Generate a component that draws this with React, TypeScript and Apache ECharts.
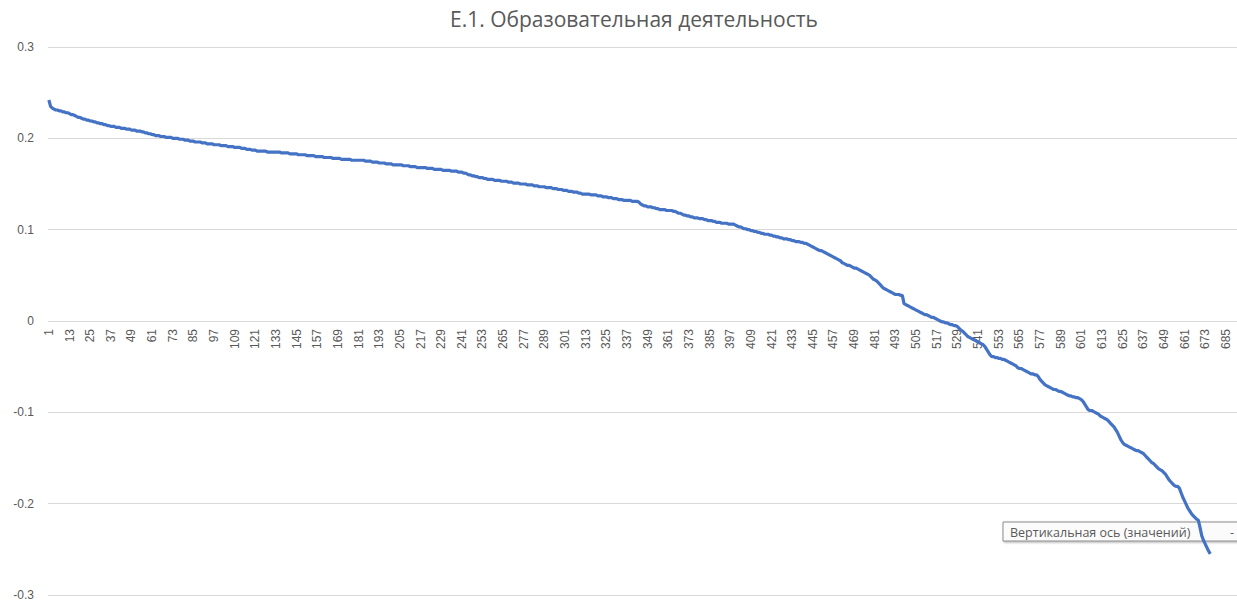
import React, { useEffect, useRef } from "react";
import * as echarts from "echarts";

const TITLE = "Е.1. Образовательная деятельность";
const TOOLTIP_TEXT = "Вертикальная ось (значений)";
const TOOLTIP_DASH = "-";

// category count on the axis (labels 1..685 shown every 12th)
const CATEGORY_COUNT = 691;
const categories: string[] = Array.from({ length: CATEGORY_COUNT }, (_, i) => String(i + 1));

const Y_MIN = -0.3;
const Y_MAX = 0.3;
const Y_STEP = 0.1;

// values, 12 per row (categories 1..676)
const values: number[] = [
  0.242, 0.235, 0.233, 0.232, 0.231, 0.231, 0.230, 0.230, 0.229, 0.229, 0.228, 0.228,
  0.227, 0.226, 0.226, 0.225, 0.224, 0.223, 0.223, 0.222, 0.221, 0.221, 0.220, 0.220,
  0.219, 0.219, 0.218, 0.218, 0.217, 0.217, 0.216, 0.216, 0.215, 0.215, 0.214, 0.214,
  0.213, 0.213, 0.213, 0.212, 0.212, 0.212, 0.211, 0.211, 0.211, 0.210, 0.210, 0.210,
  0.209, 0.209, 0.209, 0.208, 0.208, 0.208, 0.207, 0.207, 0.206, 0.206, 0.205, 0.205,
  0.204, 0.204, 0.203, 0.203, 0.203, 0.202, 0.202, 0.202, 0.201, 0.201, 0.201, 0.201,
  0.200, 0.200, 0.200, 0.200, 0.199, 0.199, 0.199, 0.198, 0.198, 0.198, 0.197, 0.197,
  0.197, 0.196, 0.196, 0.196, 0.196, 0.195, 0.195, 0.195, 0.194, 0.194, 0.194, 0.194,
  0.193, 0.193, 0.193, 0.193, 0.192, 0.192, 0.192, 0.192, 0.191, 0.191, 0.191, 0.191,
  0.190, 0.190, 0.190, 0.190, 0.189, 0.189, 0.189, 0.188, 0.188, 0.188, 0.187, 0.187,
  0.187, 0.186, 0.186, 0.186, 0.186, 0.186, 0.186, 0.185, 0.185, 0.185, 0.185, 0.185,
  0.185, 0.185, 0.185, 0.184, 0.184, 0.184, 0.184, 0.184, 0.183, 0.183, 0.183, 0.183,
  0.183, 0.182, 0.182, 0.182, 0.182, 0.182, 0.181, 0.181, 0.181, 0.181, 0.181, 0.180,
  0.180, 0.180, 0.180, 0.180, 0.179, 0.179, 0.179, 0.179, 0.179, 0.178, 0.178, 0.178,
  0.178, 0.178, 0.177, 0.177, 0.177, 0.177, 0.177, 0.177, 0.176, 0.176, 0.176, 0.176,
  0.176, 0.176, 0.176, 0.176, 0.175, 0.175, 0.175, 0.175, 0.174, 0.174, 0.174, 0.174,
  0.173, 0.173, 0.173, 0.173, 0.172, 0.172, 0.172, 0.172, 0.171, 0.171, 0.171, 0.171,
  0.171, 0.171, 0.170, 0.170, 0.170, 0.170, 0.169, 0.169, 0.169, 0.169, 0.168, 0.168,
  0.168, 0.168, 0.168, 0.168, 0.167, 0.167, 0.167, 0.167, 0.166, 0.166, 0.166, 0.166,
  0.166, 0.165, 0.165, 0.165, 0.165, 0.165, 0.164, 0.164, 0.164, 0.164, 0.163, 0.163,
  0.163, 0.162, 0.162, 0.161, 0.160, 0.160, 0.159, 0.159, 0.158, 0.158, 0.157, 0.157,
  0.157, 0.156, 0.156, 0.155, 0.155, 0.155, 0.155, 0.154, 0.154, 0.154, 0.154, 0.153,
  0.153, 0.153, 0.153, 0.152, 0.152, 0.152, 0.151, 0.151, 0.151, 0.151, 0.150, 0.150,
  0.150, 0.150, 0.149, 0.149, 0.149, 0.149, 0.148, 0.148, 0.148, 0.147, 0.147, 0.147,
  0.147, 0.146, 0.146, 0.146, 0.146, 0.145, 0.145, 0.145, 0.144, 0.144, 0.144, 0.143,
  0.143, 0.143, 0.142, 0.142, 0.142, 0.141, 0.141, 0.141, 0.140, 0.140, 0.139, 0.139,
  0.139, 0.139, 0.139, 0.138, 0.138, 0.138, 0.138, 0.137, 0.137, 0.137, 0.136, 0.136,
  0.136, 0.135, 0.135, 0.135, 0.134, 0.134, 0.134, 0.133, 0.133, 0.133, 0.132, 0.132,
  0.132, 0.132, 0.132, 0.131, 0.131, 0.131, 0.131, 0.130, 0.128, 0.127, 0.126, 0.126,
  0.125, 0.125, 0.125, 0.124, 0.124, 0.123, 0.123, 0.122, 0.122, 0.122, 0.122, 0.121,
  0.121, 0.121, 0.121, 0.120, 0.120, 0.119, 0.118, 0.118, 0.117, 0.116, 0.116, 0.115,
  0.115, 0.114, 0.114, 0.113, 0.113, 0.113, 0.112, 0.112, 0.112, 0.111, 0.111, 0.110,
  0.110, 0.110, 0.109, 0.109, 0.108, 0.108, 0.108, 0.107, 0.107, 0.107, 0.107, 0.106,
  0.106, 0.106, 0.106, 0.105, 0.104, 0.103, 0.103, 0.102, 0.101, 0.101, 0.100, 0.100,
  0.099, 0.099, 0.098, 0.098, 0.097, 0.097, 0.096, 0.096, 0.095, 0.095, 0.095, 0.094,
  0.094, 0.093, 0.093, 0.092, 0.092, 0.091, 0.091, 0.090, 0.090, 0.090, 0.089, 0.089,
  0.088, 0.088, 0.087, 0.087, 0.087, 0.086, 0.086, 0.085, 0.085, 0.084, 0.083, 0.082,
  0.081, 0.080, 0.079, 0.078, 0.077, 0.077, 0.076, 0.075, 0.074, 0.073, 0.072, 0.071,
  0.070, 0.069, 0.068, 0.067, 0.066, 0.064, 0.063, 0.062, 0.061, 0.061, 0.060, 0.059,
  0.058, 0.058, 0.057, 0.056, 0.055, 0.054, 0.053, 0.052, 0.051, 0.050, 0.048, 0.046,
  0.045, 0.044, 0.042, 0.040, 0.038, 0.036, 0.035, 0.034, 0.033, 0.032, 0.031, 0.030,
  0.029, 0.029, 0.029, 0.028, 0.028, 0.019, 0.018, 0.017, 0.016, 0.015, 0.014, 0.013,
  0.012, 0.011, 0.010, 0.009, 0.008, 0.007, 0.007, 0.006, 0.005, 0.004, 0.004, 0.003,
  0.002, 0.001, 0.000, -0.001, -0.001, -0.002, -0.002, -0.003, -0.004, -0.004, -0.005, -0.005,
  -0.006, -0.008, -0.010, -0.011, -0.013, -0.015, -0.017, -0.018, -0.019, -0.020, -0.021, -0.022,
  -0.023, -0.024, -0.025, -0.026, -0.028, -0.031, -0.034, -0.037, -0.039, -0.039, -0.040, -0.040,
  -0.041, -0.041, -0.042, -0.042, -0.043, -0.044, -0.045, -0.046, -0.047, -0.048, -0.049, -0.051,
  -0.052, -0.052, -0.053, -0.054, -0.055, -0.056, -0.057, -0.058, -0.058, -0.059, -0.059, -0.061,
  -0.064, -0.066, -0.068, -0.070, -0.071, -0.072, -0.073, -0.074, -0.075, -0.075, -0.076, -0.077,
  -0.077, -0.078, -0.079, -0.080, -0.081, -0.082, -0.082, -0.083, -0.083, -0.084, -0.084, -0.085,
  -0.086, -0.088, -0.091, -0.094, -0.097, -0.098, -0.098, -0.099, -0.100, -0.101, -0.102, -0.104,
  -0.105, -0.106, -0.107, -0.108, -0.110, -0.112, -0.114, -0.116, -0.119, -0.122, -0.126, -0.130,
  -0.133, -0.135, -0.136, -0.137, -0.138, -0.139, -0.140, -0.141, -0.142, -0.142, -0.143, -0.144,
  -0.145, -0.147, -0.149, -0.151, -0.153, -0.155, -0.156, -0.158, -0.160, -0.162, -0.163, -0.164,
  -0.166, -0.168, -0.171, -0.174, -0.176, -0.178, -0.180, -0.181, -0.181, -0.183, -0.188, -0.193,
  -0.197, -0.201, -0.205, -0.208, -0.211, -0.213, -0.215, -0.217, -0.218, -0.226, -0.235, -0.240,
  -0.244, -0.248, -0.252, -0.255,
];

const GRID_TOP = 47;
const GRID_BOTTOM = 6;
const CHART_H = 601;

export default function App() {
  const ref = useRef<HTMLDivElement>(null);

  useEffect(() => {
    document.body.style.margin = "0";
    if (!ref.current) return;
    const chart = echarts.init(ref.current, null, { renderer: "svg" });
    // zero line position inside the grid -> offset the category axis up to it
    const plotH = CHART_H - GRID_TOP - GRID_BOTTOM;
    const zeroOffset = -plotH * ((0 - Y_MIN) / (Y_MAX - Y_MIN));
    chart.setOption({
      animation: false,
      backgroundColor: "#ffffff",
      title: {
        text: TITLE,
        left: 445,
        top: 3,
        textStyle: {
          fontFamily: "Open Sans",
          fontSize: 21,
          fontWeight: "normal",
          color: "#595959",
        },
      },
      grid: {
        left: 48,
        right: 0,
        top: GRID_TOP,
        bottom: GRID_BOTTOM,
        containLabel: false,
        outerBoundsMode: "none",
      },
      xAxis: {
        type: "category",
        data: categories,
        boundaryGap: true,
        position: "bottom",
        offset: zeroOffset,
        axisLine: { show: false, onZero: false },
        axisTick: { show: false },
        axisLabel: {
          interval: 11,
          rotate: 90,
          margin: 8,
          fontFamily: "Liberation Sans Narrow, Liberation Sans",
          fontSize: 12,
          color: "#595959",
        },
        splitLine: { show: false },
      },
      yAxis: {
        type: "value",
        min: Y_MIN,
        max: Y_MAX,
        interval: Y_STEP,
        axisLine: { show: false },
        axisTick: { show: false },
        axisLabel: {
          margin: 14,
          fontFamily: "Liberation Sans",
          fontSize: 12,
          color: "#595959",
          formatter: (v: number) => {
            const r = Math.round(v * 10) / 10;
            return r === 0 ? "0" : String(r);
          },
        },
        splitLine: { show: true, lineStyle: { color: "#d9d9d9", width: 1 } },
      },
      series: [
        {
          type: "line",
          data: values,
          symbol: "none",
          smooth: false,
          lineStyle: { color: "#4472C4", width: 3.2 },
          z: 2,
        },
      ],
      graphic: [
        {
          type: "group",
          z: 100,
          children: [
            {
              type: "rect",
              shape: { x: 1003, y: 522, width: 250, height: 19 },
              style: {
                fill: "rgba(255,255,255,0.88)",
                stroke: "#8c8c8c",
                lineWidth: 1,
                shadowBlur: 2,
                shadowOffsetX: 1,
                shadowOffsetY: 1,
                shadowColor: "rgba(0,0,0,0.35)",
              },
            },
            {
              type: "text",
              x: 1010,
              y: 532,
              style: {
                text: TOOLTIP_TEXT,
                fontFamily: "Open Sans",
                fontSize: 12.5,
                fill: "#595959",
                verticalAlign: "middle",
                align: "left",
              },
            },
            {
              type: "text",
              x: 1230,
              y: 532,
              style: {
                text: TOOLTIP_DASH,
                fontFamily: "Open Sans",
                fontSize: 12.5,
                fill: "#595959",
                verticalAlign: "middle",
                align: "left",
              },
            },
          ],
        },
      ],
    });
    return () => chart.dispose();
  }, []);

  return <div ref={ref} style={{ width: 1237, height: 601 }} />;
}
